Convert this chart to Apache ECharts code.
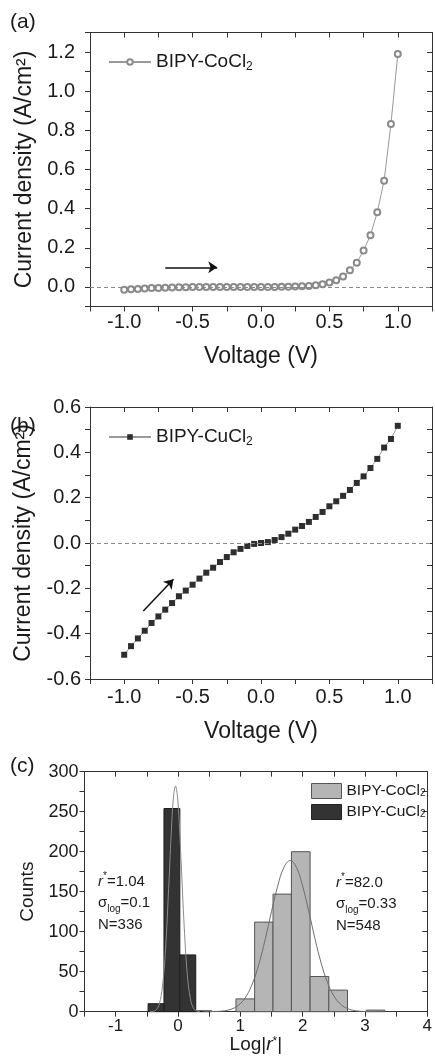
<!DOCTYPE html>
<html><head><meta charset="utf-8">
<script src="https://cdn.jsdelivr.net/npm/echarts@6/dist/echarts.min.js"></script>
<style>html,body{margin:0;padding:0;background:#fff}#c{width:435px;height:1056px}</style>
</head><body><div id="c"></div>
<script>
// ---------- data ----------
const voltage = [-1.0,-0.95,-0.9,-0.85,-0.8,-0.75,-0.7,-0.65,-0.6,-0.55,-0.5,-0.45,-0.4,-0.35,-0.3,-0.25,-0.2,-0.15,-0.1,-0.05,0,0.05,0.1,0.15,0.2,0.25,0.3,0.35,0.4,0.45,0.5,0.55,0.6,0.65,0.7,0.75,0.8,0.85,0.9,0.95,1.0];
const coCurrent = [-0.015,-0.012,-0.01,-0.008,-0.006,-0.005,-0.004,-0.003,-0.002,-0.002,-0.001,-0.001,0,0,0,0,0,0,0,0,0,0,0,0.001,0.001,0.002,0.003,0.005,0.009,0.014,0.022,0.034,0.053,0.085,0.124,0.186,0.264,0.382,0.543,0.833,1.19];
const cuCurrent = [-0.493,-0.455,-0.421,-0.387,-0.353,-0.324,-0.294,-0.265,-0.235,-0.21,-0.184,-0.157,-0.131,-0.109,-0.084,-0.062,-0.041,-0.026,-0.013,-0.004,0,0.004,0.013,0.026,0.041,0.059,0.075,0.093,0.115,0.137,0.162,0.184,0.208,0.234,0.265,0.294,0.331,0.371,0.421,0.459,0.517];

const cuBinStart = [-0.48,-0.225,0.03,0.285];
const cuBinEnd   = [-0.225,0.03,0.285,0.54];
const cuCounts   = [10,254,71,1];
const coBinStart = [0.93,1.23,1.525,1.82,2.12,2.42,3.02];
const coBinEnd   = [1.23,1.525,1.82,2.12,2.42,2.72,3.32];
const coCounts   = [16,112,147,200,44,27,2];

const cuFitX = [-0.45,-0.4,-0.35,-0.3,-0.25,-0.2,-0.15,-0.1,-0.07,-0.04,-0.01,0.02,0.05,0.1,0.15,0.2,0.25,0.3,0.35];
const cuFitY = [0.1,0.4,2.3,9.6,31,78,154,236,270,282,270,236,188,106,46,16,4,0.9,0.1];
const coFitX = [0.4,0.5,0.6,0.7,0.8,0.9,1.0,1.1,1.2,1.3,1.4,1.5,1.6,1.7,1.8,1.9,2.0,2.1,2.2,2.3,2.4,2.5,2.6,2.7,2.8,2.9,3.0,3.1,3.2];
const coFitY = [0.02,0.08,0.25,0.73,1.9,4.6,10,19.9,36.2,60,90.7,125,157,180.5,189,180.5,157,125,90.7,60,36.2,19.9,10,4.6,1.9,0.73,0.25,0.08,0.02];

const ivXLabels = ['-1.0','-0.5','0.0','0.5','1.0'];
const coYLabels = ['0.0','0.2','0.4','0.6','0.8','1.0','1.2'];
const cuYLabels = ['-0.6','-0.4','-0.2','0.0','0.2','0.4','0.6'];
const histXLabels = ['-1','0','1','2','3','4'];
const histYLabels = ['0','50','100','150','200','250','300'];

const arrowA = [[-0.7,0.1],[-0.32,0.1]];
const arrowB = [[-0.86,-0.30],[-0.64,-0.16]];

// ---------- style helpers ----------
const FONT = "'Liberation Sans', Arial, sans-serif";
const TXT = '#1a1a1a';
const AX = '#333';
function fmtFrom(labels){
  return function(v){
    const l = labels.find(s => Math.abs(parseFloat(s) - v) < 1e-6);
    return l === undefined ? '' : l;
  };
}
function xPair(grid, min, max, interval, labels, fs, margin, name, nameGap, nameStyle){
  return [
    {type:'value', gridIndex:grid, min, max, interval, position:'bottom',
     axisLine:{show:true,onZero:false,lineStyle:{color:AX,width:1}},
     axisTick:{show:true,inside:false,length:5,lineStyle:{color:AX,width:1}},
     axisLabel:{formatter:fmtFrom(labels), fontSize:fs, color:TXT, fontFamily:FONT, margin, showMinLabel:true, showMaxLabel:true},
     splitLine:{show:false},
     name, nameLocation:'middle', nameGap, nameTextStyle:nameStyle},
    {type:'value', gridIndex:grid, min, max, interval, position:'top',
     axisLine:{show:true,onZero:false,lineStyle:{color:AX,width:1}},
     axisTick:{show:true,inside:true,length:5,lineStyle:{color:AX,width:1}},
     axisLabel:{show:false}, splitLine:{show:false}}
  ];
}
function yPair(grid, min, max, interval, labels, fs, margin, name, nameGap, nameStyle){
  return [
    {type:'value', gridIndex:grid, min, max, interval, position:'left',
     axisLine:{show:true,onZero:false,lineStyle:{color:AX,width:1}},
     axisTick:{show:true,inside:false,length:5,lineStyle:{color:AX,width:1}},
     axisLabel:{formatter:fmtFrom(labels), fontSize:fs, color:TXT, fontFamily:FONT, margin, showMinLabel:true, showMaxLabel:true},
     splitLine:{show:false},
     name, nameLocation:'middle', nameGap, nameTextStyle:nameStyle},
    {type:'value', gridIndex:grid, min, max, interval, position:'right',
     axisLine:{show:true,onZero:false,lineStyle:{color:AX,width:1}},
     axisTick:{show:true,inside:true,length:5,lineStyle:{color:AX,width:1}},
     axisLabel:{show:false}, splitLine:{show:false}}
  ];
}
const titleStyle = {fontSize:23, color:TXT, fontFamily:FONT};
const histTitleStyle = {fontSize:19, color:TXT, fontFamily:FONT,
  rich:{i:{fontSize:19, fontStyle:'italic', fontFamily:FONT, color:TXT},
        sup:{fontSize:12, fontFamily:FONT, color:TXT, verticalAlign:'top', lineHeight:10}}};

const subRich = (fs, sfs, lh, slh) => ({
  fontSize:fs, fontFamily:FONT, color:TXT, lineHeight:lh,
  rich:{sub:{fontSize:sfs, fontFamily:FONT, color:TXT, verticalAlign:'bottom', lineHeight:slh}}
});
const legendNames = {a_co:'BIPY-CoCl{sub|2}', b_cu:'BIPY-CuCl{sub|2}', c_co:'BIPY-CoCl{sub|2}', c_cu:'BIPY-CuCl{sub|2}'};

function histRender(fill, stroke){
  return function(params, api){
    const n = api.value(2);
    if (!n) return null;
    const p0 = api.coord([api.value(0), 0]);
    const p1 = api.coord([api.value(1), n]);
    return {type:'rect', shape:{x:p0[0], y:p1[1], width:p1[0]-p0[0], height:p0[1]-p1[1]},
            style:{fill, stroke, lineWidth:1}};
  };
}
const zeroLine = {yAxis:0, symbol:'none', lineStyle:{type:[4,3], color:'#8a8a8a', width:1}};
function arrowLine(a){
  const ls = {type:'solid', color:'#111', width:1.5};
  return [{coord:a[0], symbol:'none', lineStyle:ls}, {coord:a[1], symbol:'arrow', symbolSize:9, lineStyle:ls}];
}

const option = {
  animation:false,
  backgroundColor:'#fff',
  grid:[
    {left:90, top:32.5, width:343.4, height:274},
    {left:90, top:407, width:343.4, height:272},
    {left:84.5, top:771.7, width:346, height:240}
  ],
  xAxis:[
    ...xPair(0, -1.25, 1.25, 0.25, ivXLabels, 20, 6, 'Voltage (V)', 39, titleStyle),
    ...xPair(1, -1.25, 1.25, 0.25, ivXLabels, 20, 8, 'Voltage (V)', 41, titleStyle),
    ...xPair(2, -1.5, 4, 0.5, histXLabels, 17, 6, 'Log|{i|r}{sup|*}|', 24, histTitleStyle)
  ],
  yAxis:[
    ...yPair(0, -0.1, 1.3, 0.1, coYLabels, 20, 15, 'Current density (A/cm²)', 42, titleStyle),
    ...yPair(1, -0.6, 0.6, 0.1, cuYLabels, 20, 9, 'Current density (A/cm²)', 42, titleStyle),
    ...yPair(2, 0, 300, 25, histYLabels, 18, 6, 'Counts', 44, {fontSize:19, color:TXT, fontFamily:FONT})
  ],
  legend:[
    {left:108, top:51, padding:0, itemWidth:42, itemHeight:7, selectedMode:false, data:['a_co'],
     formatter:n => legendNames[n], textStyle:subRich(19,12,22,9)},
    {left:108, top:426, padding:0, itemWidth:42, itemHeight:7, selectedMode:false, data:['b_cu'],
     formatter:n => legendNames[n], textStyle:subRich(19,12,22,9)},
    {left:311, top:783, padding:0, orient:'vertical', itemWidth:30, itemHeight:15, itemGap:5, icon:'rect', selectedMode:false,
     data:[{name:'c_co', itemStyle:{color:'#b5b5b5', borderColor:'#555', borderWidth:1}},
           {name:'c_cu', itemStyle:{color:'#333', borderColor:'#222', borderWidth:1}}],
     formatter:n => legendNames[n], textStyle:subRich(15.5,10,15,7)}
  ],
  series:[
    {type:'line', name:'a_co', xAxisIndex:0, yAxisIndex:0,
     data:voltage.map((v,i)=>[v, coCurrent[i]]),
     symbol:'emptyCircle', symbolSize:6,
     itemStyle:{color:'#8a8a8a', borderWidth:1},
     lineStyle:{color:'#999', width:1},
     markLine:{silent:true, animation:false, label:{show:false}, symbol:['none','none'],
       data:[zeroLine, arrowLine(arrowA)]}},
    {type:'line', name:'b_cu', xAxisIndex:2, yAxisIndex:2,
     data:voltage.map((v,i)=>[v, cuCurrent[i]]),
     symbol:'rect', symbolSize:6,
     itemStyle:{color:'#2e2e2e'},
     lineStyle:{color:'#999', width:1},
     markLine:{silent:true, animation:false, label:{show:false}, symbol:['none','none'],
       data:[zeroLine, arrowLine(arrowB)]}},
    {type:'custom', name:'c_co', xAxisIndex:4, yAxisIndex:4,
     data:coBinStart.map((s,i)=>[s, coBinEnd[i], coCounts[i]]),
     encode:{x:[0,1], y:2}, itemStyle:{color:'#b5b5b5', borderColor:'#555'},
     renderItem:histRender('#b5b5b5','#555')},
    {type:'custom', name:'c_cu', xAxisIndex:4, yAxisIndex:4,
     data:cuBinStart.map((s,i)=>[s, cuBinEnd[i], cuCounts[i]]),
     encode:{x:[0,1], y:2}, itemStyle:{color:'#333', borderColor:'#222'},
     renderItem:histRender('#333','#1e1e1e')},
    {type:'line', name:'fitCo', xAxisIndex:4, yAxisIndex:4,
     data:coFitX.map((x,i)=>[x, coFitY[i]]), smooth:0.4, symbol:'none',
     lineStyle:{color:'#6e6e6e', width:1}, z:5},
    {type:'line', name:'fitCu', xAxisIndex:4, yAxisIndex:4,
     data:cuFitX.map((x,i)=>[x, cuFitY[i]]), smooth:0.4, symbol:'none',
     lineStyle:{color:'#8a8a8a', width:1}, z:5}
  ],
  graphic:[
    {type:'text', left:10, top:12, style:{text:'(a)', fontSize:21, fontFamily:FONT, fill:TXT}},
    {type:'text', left:10, top:416, style:{text:'(b)', fontSize:21, fontFamily:FONT, fill:TXT}},
    {type:'text', left:10, top:756, style:{text:'(c)', fontSize:21, fontFamily:FONT, fill:TXT}},
    {type:'text', left:98, top:871, style:{text:'{i|r}{sup|*}=1.04\nσ{sub|log}=0.1\nN=336',
      fontSize:15, fontFamily:FONT, fill:TXT, lineHeight:21.5,
      rich:{i:{fontSize:15, fontStyle:'italic', fontFamily:FONT, fill:TXT, lineHeight:21.5},
            sup:{fontSize:10, fontFamily:FONT, fill:TXT, verticalAlign:'top', lineHeight:8},
            sub:{fontSize:10, fontFamily:FONT, fill:TXT, verticalAlign:'bottom', lineHeight:7}}}},
    {type:'text', left:336, top:872, style:{text:'{i|r}{sup|*}=82.0\nσ{sub|log}=0.33\nN=548',
      fontSize:15, fontFamily:FONT, fill:TXT, lineHeight:21.5,
      rich:{i:{fontSize:15, fontStyle:'italic', fontFamily:FONT, fill:TXT, lineHeight:21.5},
            sup:{fontSize:10, fontFamily:FONT, fill:TXT, verticalAlign:'top', lineHeight:8},
            sub:{fontSize:10, fontFamily:FONT, fill:TXT, verticalAlign:'bottom', lineHeight:7}}}}
  ]
};
const chart = echarts.init(document.getElementById('c'), null, {renderer:'canvas'});
chart.setOption(option);
</script>
</body></html>
